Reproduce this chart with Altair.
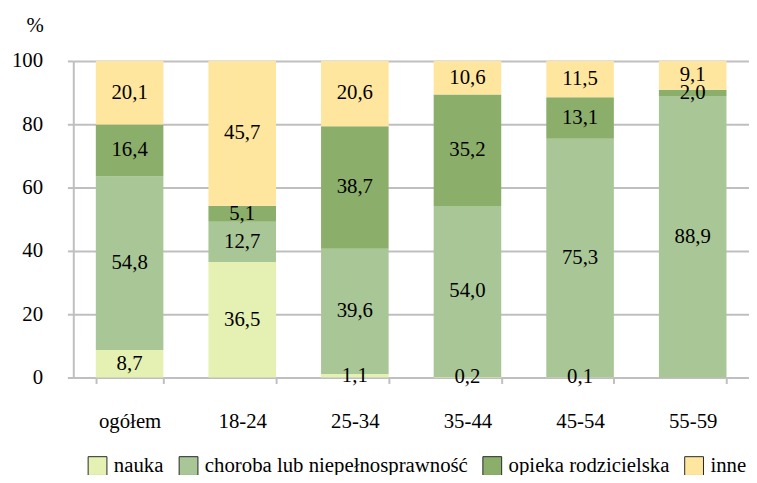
import altair as alt
import pandas as pd

categories = ["ogółem", "18-24", "25-34", "35-44", "45-54", "55-59"]
series = ["nauka", "choroba lub niepełnosprawność", "opieka rodzicielska", "inne"]
nauka = [8.7, 36.5, 1.1, 0.2, 0.1, 0.0]
choroba = [54.8, 12.7, 39.6, 54.0, 75.3, 88.9]
opieka = [16.4, 5.1, 38.7, 35.2, 13.1, 2.0]
inne = [20.1, 45.7, 20.6, 10.6, 11.5, 9.1]
colors = ["#E4F1B2", "#A9C696", "#8BAF6A", "#FFE69F"]
y_ticks = [0, 20, 40, 60, 80, 100]

rows = []
for s_idx, (name, vals) in enumerate(zip(series, [nauka, choroba, opieka, inne])):
    for cat, v in zip(categories, vals):
        rows.append({"cat": cat, "series": name, "order": s_idx, "value": v,
                     "label": f"{v:.1f}".replace(".", ",")})
df = pd.DataFrame(rows)

FONT = "Times New Roman, Liberation Serif, serif"
FS = 21
GRID = "#BFBFBF"

base = alt.Chart(df).transform_stack(
    stack="value", groupby=["cat"], sort=[alt.SortField("order", "ascending")], as_=["y0", "y1"]
).transform_calculate(mid="(datum.y0 + datum.y1) / 2")

x_enc = alt.X("cat:N", sort=categories,
              scale=alt.Scale(paddingInner=0.4, paddingOuter=0.2),
              axis=alt.Axis(title=None, labelAngle=0, labelFont=FONT, labelFontSize=FS,
                            labelColor="black", labelPadding=45, labelBaseline="alphabetic",
                            tickBand="extent", tickSize=6, tickColor=GRID, tickWidth=2,
                            domainColor=GRID, domainWidth=2, grid=False))

y_scale = alt.Scale(domain=[0, 100], nice=False)

bars = base.mark_bar().encode(
    x=x_enc,
    y=alt.Y("y0:Q", scale=y_scale,
            axis=alt.Axis(values=y_ticks, title="%", titleAngle=0, titleX=-39, titleY=-36,
                          titleAlign="center", titleBaseline="middle", titleFont=FONT,
                          titleFontSize=FS, titleFontWeight="normal", titleColor="black",
                          labelFont=FONT, labelFontSize=FS, labelColor="black",
                          labelPadding=25, tickSize=6, tickColor=GRID, tickWidth=2,
                          domainColor=GRID, domainWidth=2, gridColor=GRID, gridWidth=2)),
    y2="y1:Q",
    color=alt.Color("series:N", sort=series,
                    scale=alt.Scale(domain=series, range=colors),
                    legend=alt.Legend(title=None, orient="none", legendX=14, legendY=399,
                                      direction="horizontal", symbolType="square",
                                      symbolSize=361, symbolStrokeColor="#262626",
                                      symbolStrokeWidth=1, symbolOpacity=1,
                                      labelFont=FONT, labelFontSize=FS, labelColor="black",
                                      labelLimit=400, columnPadding=13, labelOffset=6,
                                      padding=0)),
)

texts = base.transform_filter("datum.value > 0").mark_text(
    font=FONT, fontSize=FS, color="black", baseline="middle", align="center"
).encode(
    x=alt.X("cat:N", sort=categories),
    y=alt.Y("mid:Q", scale=y_scale),
    text="label:N",
)

chart = alt.layer(bars, texts).properties(
    width=683, height=320,
    autosize=alt.AutoSizeParams(type="none"),
    padding={"left": 66, "top": 51, "right": 0, "bottom": 96},
).configure_view(stroke=None)

chart.save("out.html", embed_options={"renderer": "svg", "actions": False})
